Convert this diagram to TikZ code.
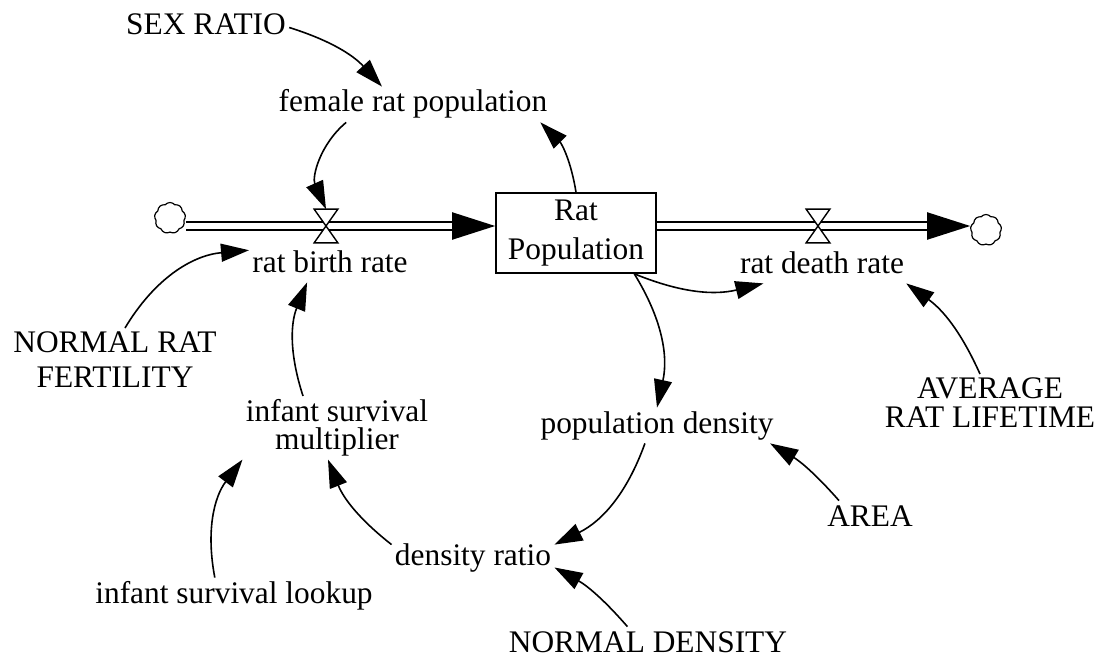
\documentclass[tikz,border=0pt]{standalone}
\usepackage{fontspec}
\setmainfont{Liberation Serif}
\usetikzlibrary{arrows.meta,shapes.symbols}

\begin{document}
\begin{tikzpicture}[x=0.5pt,y=0.5pt,font=\fontsize{15.7pt}{17pt}\selectfont,
   var/.style={inner sep=1.5pt,text height=11pt,text depth=3.5pt,anchor=base},
   multi/.style={inner sep=1.5pt,align=center,anchor=north},
   link/.style={line width=0.8pt,-{Triangle[length=14pt,width=9pt]}},
   pipe/.style={line width=1pt,double,double distance=3pt,-{Triangle[length=21.5pt,width=13.5pt]}},
   valve/.style={minimum width=11.5pt,minimum height=16.5pt,inner sep=0pt},
   sky/.style={cloud,cloud puffs=9,cloud puff arc=100,aspect=1,draw,line width=0.6pt,minimum size=15.5pt,inner sep=0pt}]
   \useasboundingbox (0,0) rectangle (1104,-658);
   \draw (576,-233) node[draw,line width=0.8pt,minimum width=80pt,minimum height=40pt,align=center,
      font=\fontsize{15.7pt}{19.5pt}\selectfont] (stock) {Rat\\Population};
   \draw (170,-218) node[sky] (cin) {};
   \draw (986,-230) node[sky] (cout) {};
   \draw (326,-226) node[valve] (vin) {};
   \draw (818,-226) node[valve] (vout) {};
   \draw (206,-35) node[var] (sex) {SEX RATIO};
   \draw (413,-112) node[var] (female) {female rat population};
   \draw (330,-272) node[var] (birth) {rat birth rate};
   \draw (822,-273) node[var] (death) {rat death rate};
   \draw (657,-433) node[var] (popdens) {population density};
   \draw (473,-565) node[var] (ratio) {density ratio};
   \draw (234,-603) node[var] (lookup) {infant survival lookup};
   \draw (648,-652) node[var] (normd) {NORMAL DENSITY};
   \draw (870,-526) node[var] (area) {AREA};
   \draw (115,-328) node[multi,font=\fontsize{15.7pt}{17.5pt}\selectfont] (fert) {NORMAL RAT\\FERTILITY};
   \draw (337,-396) node[multi,font=\fontsize{15.7pt}{14pt}\selectfont] (mult) {infant survival\\multiplier};
   \draw (990,-374) node[multi,font=\fontsize{15.7pt}{14.5pt}\selectfont] (avg) {AVERAGE\\RAT LIFETIME};

   \draw[pipe] (cin.east |- vin) -- (stock.west |- vin);
   \draw[pipe] (stock.east |- vout) -- (cout.west |- vout);
   \foreach \v in {vin,vout}
      \draw[line width=0.7pt,fill=white] (\v.north west) -- (\v.north east) -- (\v.south west) -- (\v.south east) -- cycle;

   \draw[link] (sex.east) to[bend left=15] (female.150);
   \draw[link] (female.195) to[bend right=37] (vin.north);
   \draw[link] (stock.north) to[bend right=18] (female.-8);
   \draw[link] ([xshift=5pt]fert.north) to[bend left=27] (birth.170);
   \draw[link] ([xshift=-17pt]mult.north) to[bend left=20] (birth.218);
   \draw[link] (stock.-35) to[bend right=18] (death.197);
   \draw[link] (stock.-35) to[bend left=22] (popdens.north);
   \draw[link] ([xshift=-5pt]avg.north) to[bend right=15] (death.-12);
   \draw[link] (popdens.236) to[bend left=22] (ratio.9);
   \draw[link] (area.150) to[bend right=9] (popdens.-9.5);
   \draw[link] (ratio.171) to[bend left=15] ([xshift=-4.5pt]mult.south);
   \draw[link] (lookup.137) to[bend left=24] (mult.south west);
   \draw[link] (normd.139) to[bend right=10] (ratio.-7);
\end{tikzpicture}
\end{document}
